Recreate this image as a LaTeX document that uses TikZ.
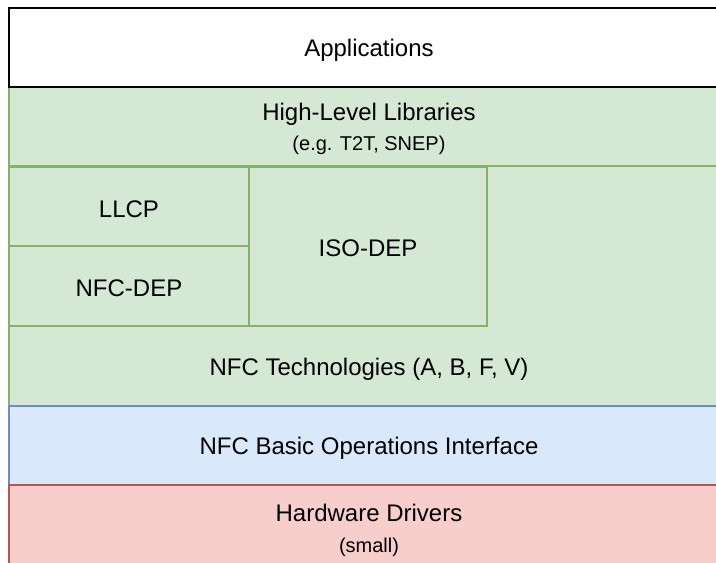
\documentclass[tikz,border=0pt]{standalone}
\usepackage{fontspec}
\setmainfont{Liberation Sans}
\definecolor{gfill}{HTML}{D5E8D4}
\definecolor{gline}{HTML}{82B366}
\definecolor{bfill}{HTML}{DAE8FC}
\definecolor{bline}{HTML}{6C8EBF}
\definecolor{rfill}{HTML}{F8CECC}
\definecolor{rline}{HTML}{B85450}
\tikzset{
  layer/.style={rectangle, anchor=north west, inner sep=0pt, outer sep=0pt, line width=1.5pt},
  greenbox/.style={layer, fill=gfill, draw=gline},
  bluebox/.style={layer, fill=bfill, draw=bline},
  redbox/.style={layer, fill=rfill, draw=rline},
  whitebox/.style={layer, fill=white, draw=black, line width=2pt},
  big/.style={font=\fontsize{24}{28}\selectfont, inner sep=0pt, anchor=base},
  small/.style={font=\fontsize{20}{24}\selectfont, inner sep=0pt, anchor=base},
}
\begin{document}
\begin{tikzpicture}[x=1pt,y=-1pt]
\useasboundingbox[fill=white] (0,0) rectangle (716,563);
\clip (0,0) rectangle (716,563);
% stack of layers, full width
\node[whitebox, minimum width=720pt, minimum height=79pt] (app) at (9,8) {};
\node[greenbox, minimum width=720pt, minimum height=79pt] (hll) at (9,87) {};
\node[greenbox, minimum width=720pt, minimum height=240pt] (tech) at (9,166) {};
% protocol boxes inside the technologies layer
\node[greenbox, minimum width=240pt, minimum height=79pt] (llcp) at (9,167) {};
\node[greenbox, minimum width=240pt, minimum height=80pt] (dep) at (9,246) {};
\node[greenbox, minimum width=238pt, minimum height=159pt] (iso) at (249,167) {};
\node[bluebox, minimum width=720pt, minimum height=79pt] (ops) at (9,406) {};
\node[redbox, minimum width=720pt, minimum height=90pt] (hw) at (9,485) {};
\draw[black, line width=2pt] (app.north west) rectangle (app.south east);
% labels, placed by their baselines
\node[big] (tapp) at (369,56) {Applications};
\node[big] (thll) at (369,120) {High-Level Libraries};
\node[small] (thll2) at (369,150) {(e.g. T2T, SNEP)};
\node[big] (tllcp) at (129,217) {LLCP};
\node[big] (tdep) at (129,296) {NFC-DEP};
\node[big] (tiso) at (368,256) {ISO-DEP};
\node[big] (ttech) at (369,375) {NFC Technologies (A, B, F, V)};
\node[big] (tops) at (369,454) {NFC Basic Operations Interface};
\node[big] (thw) at (369,521) {Hardware Drivers};
\node[small] (thw2) at (369,552) {(small)};
\end{tikzpicture}
\end{document}
